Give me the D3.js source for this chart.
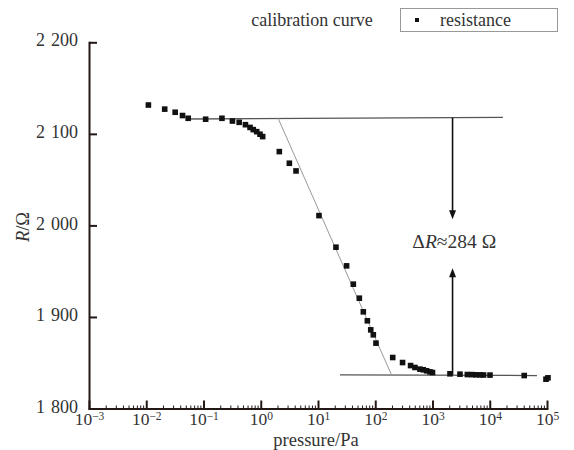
<!DOCTYPE html>
<html>
<head>
<meta charset="utf-8">
<script src="https://cdn.jsdelivr.net/npm/d3@7"></script>
<style>
  body { margin: 0; background: white; }
  svg { display: block; font-family: 'Liberation Serif', 'Times New Roman', serif; }
</style>
</head>
<body>
<svg id="chart" width="574" height="450"></svg>
<script>
/* DATA */

// Measured points (pressure in Pa, resistance in ohm)
const pressure = [0.0109, 0.021, 0.032, 0.043, 0.054, 0.109, 0.21, 0.32, 0.42, 0.54,
  0.65, 0.74, 0.85, 0.97, 1.08, 2.11, 3.16, 4.13, 10.4, 20.6,
  31.6, 41.4, 52.7, 61.9, 72.8, 83.4, 92.5, 103, 202, 300,
  414, 494, 603, 690, 790, 904, 1000, 2020, 3020, 4060,
  4900, 5750, 6800, 7800, 10100, 40000, 96000, 104000]
const resistance = [2131.5, 2127, 2123.6, 2120, 2117, 2116, 2117, 2114, 2112.6, 2110,
  2107, 2104.6, 2102.4, 2099.6, 2097, 2080.6, 2067.9, 2059.5, 2010.7, 1976.2,
  1955.8, 1935.8, 1920.5, 1905.6, 1895.8, 1885.9, 1880.5, 1871.4, 1855.7, 1850.2,
  1846.9, 1844.8, 1843, 1842.3, 1841.2, 1840, 1839.3, 1837.9, 1837.5, 1837.1,
  1837, 1836.8, 1836.7, 1836.6, 1836.5, 1836, 1832, 1833.5]

// Fitted guide lines [pressure, resistance]
const plateauLine = [[0.0515, 2116.2], [17000, 2118.0]]
const slopeLine = [[2.0, 2117.3], [192, 1836.8]]
const baseLine = [[24.2, 1836.8], [66800, 1836.0]]

// Delta R annotation
const arrowPressure = 2240
const arrowDown = [2117.6, 2006.8]
const arrowUp = [1836.8, 1953.3]
const deltaLabel = { pressure: 2400, resistance: 1975 }

// Axes
const xTicks = [1e-3, 1e-2, 1e-1, 1e0, 1e1, 1e2, 1e3, 1e4, 1e5]
const yTicks = [1800, 1900, 2000, 2100, 2200]

/* COLOURS */
const axisColour = '#231815'
const darkLine = '#555'
const lightLine = '#999'

/* CHART */

const svg = d3.select('#chart')

const x = d3.scaleLog().domain([1e-3, 1e5]).range([89, 547])
const y = d3.scaleLinear().domain([1800, 2200]).range([408.5, 42.3])

// Y axis
const gy = svg.append('g')
  .attr('transform', 'translate(89,0)')
  .call(d3.axisLeft(y)
    .tickValues(yTicks)
    .tickSizeInner(-8)
    .tickSizeOuter(0)
    .tickPadding(11)
    .tickFormat(d => d3.format(',')(d).replace(',', '\u2004')))

gy.selectAll('text')
  .attr('font-size', 18)
  .attr('font-family', 'Liberation Serif')
  .attr('fill', '#333')
  .attr('dy', '0.2em')

// X axis
const gx = svg.append('g')
  .attr('transform', `translate(0,${y(1800)})`)
  .call(d3.axisBottom(x)
    .tickValues(xTicks)
    .tickSizeInner(-8)
    .tickSizeOuter(0)
    .tickPadding(4)
    .tickFormat(() => ''))

gx.selectAll('.tick text')
  .attr('font-size', 17.5)
  .attr('font-family', 'Liberation Serif')
  .attr('fill', '#333')
  .each(function (d) {
    const t = d3.select(this)
    t.append('tspan').text('10')
    t.append('tspan')
      .attr('dy', '-0.45em')
      .attr('font-size', 11.5)
      .text(String(Math.round(Math.log10(d))).replace('-', '\u2212'))
  })

// Minor ticks on log axis
const minorTicks = x.ticks().filter(d => !xTicks.includes(d))
gx.selectAll('.minor')
  .data(minorTicks)
  .enter().append('line')
  .attr('class', 'minor')
  .attr('x1', d => x(d))
  .attr('x2', d => x(d))
  .attr('y1', 0)
  .attr('y2', -3)
  .attr('stroke', axisColour)
  .attr('stroke-width', 1)

svg.selectAll('.domain, .tick line')
  .attr('stroke', axisColour)
  .attr('stroke-width', 2)
svg.selectAll('.domain').attr('stroke-linecap', 'square')

// Axis titles
svg.append('text')
  .attr('x', 316)
  .attr('y', 446)
  .attr('text-anchor', 'middle')
  .attr('font-size', 18.5)
  .attr('fill', '#333')
  .text('pressure/Pa')

const yTitle = svg.append('text')
  .attr('transform', 'translate(29,227) rotate(-90)')
  .attr('text-anchor', 'middle')
  .attr('font-size', 18.5)
  .attr('fill', '#333')
yTitle.append('tspan').attr('font-style', 'italic').text('R')
yTitle.append('tspan').text('/Ω')

// Chart title
svg.append('text')
  .attr('x', 312)
  .attr('y', 26)
  .attr('text-anchor', 'middle')
  .attr('font-size', 18)
  .attr('fill', '#333')
  .text('calibration curve')

/* Guide lines */
const line = d3.line().x(d => x(d[0])).y(d => y(d[1]))

svg.append('path')
  .attr('d', line(plateauLine))
  .attr('fill', 'none')
  .attr('stroke', darkLine)
  .attr('stroke-width', 1.3)

svg.append('path')
  .attr('d', line(baseLine))
  .attr('fill', 'none')
  .attr('stroke', darkLine)
  .attr('stroke-width', 1.3)

svg.append('path')
  .attr('d', line(slopeLine))
  .attr('fill', 'none')
  .attr('stroke', lightLine)
  .attr('stroke-width', 1)

/* Points */
svg.append('g')
  .selectAll('rect')
  .data(pressure.map((p, i) => [p, resistance[i]]))
  .enter().append('rect')
  .attr('x', d => x(d[0]) - 2.8)
  .attr('y', d => y(d[1]) - 2.8)
  .attr('width', 5.6)
  .attr('height', 5.6)
  .attr('fill', '#111')

/* Delta R arrows */
const ax = x(arrowPressure)
function drawArrow (from, to) {
  const y1 = y(from)
  const y2 = y(to)
  const dir = y2 > y1 ? 1 : -1
  svg.append('line')
    .attr('x1', ax).attr('x2', ax)
    .attr('y1', y1).attr('y2', y2 - dir * 6)
    .attr('stroke', '#111')
    .attr('stroke-width', 1.6)
  svg.append('path')
    .attr('d', `M${ax},${y2} L${ax - 3.5},${y2 - dir * 9} L${ax + 3.5},${y2 - dir * 9} Z`)
    .attr('fill', '#111')
}
drawArrow(arrowDown[0], arrowDown[1])
drawArrow(arrowUp[0], arrowUp[1])

const dl = svg.append('text')
  .attr('x', x(deltaLabel.pressure))
  .attr('y', y(deltaLabel.resistance))
  .attr('text-anchor', 'middle')
  .attr('font-size', 19.5)
  .attr('fill', '#333')
dl.append('tspan').text('Δ')
dl.append('tspan').attr('font-style', 'italic').text('R')
dl.append('tspan').text('≈284 Ω')

/* Legend */
const legend = svg.append('g')
legend.append('rect')
  .attr('x', 400.5)
  .attr('y', 8.5)
  .attr('width', 157)
  .attr('height', 23)
  .attr('fill', 'white')
  .attr('stroke', '#999')
legend.append('rect')
  .attr('x', 415)
  .attr('y', 18)
  .attr('width', 4)
  .attr('height', 4)
  .attr('fill', '#111')
legend.append('text')
  .attr('x', 440)
  .attr('y', 26)
  .attr('font-size', 18)
  .attr('fill', '#333')
  .text('resistance')
</script>
</body>
</html>
